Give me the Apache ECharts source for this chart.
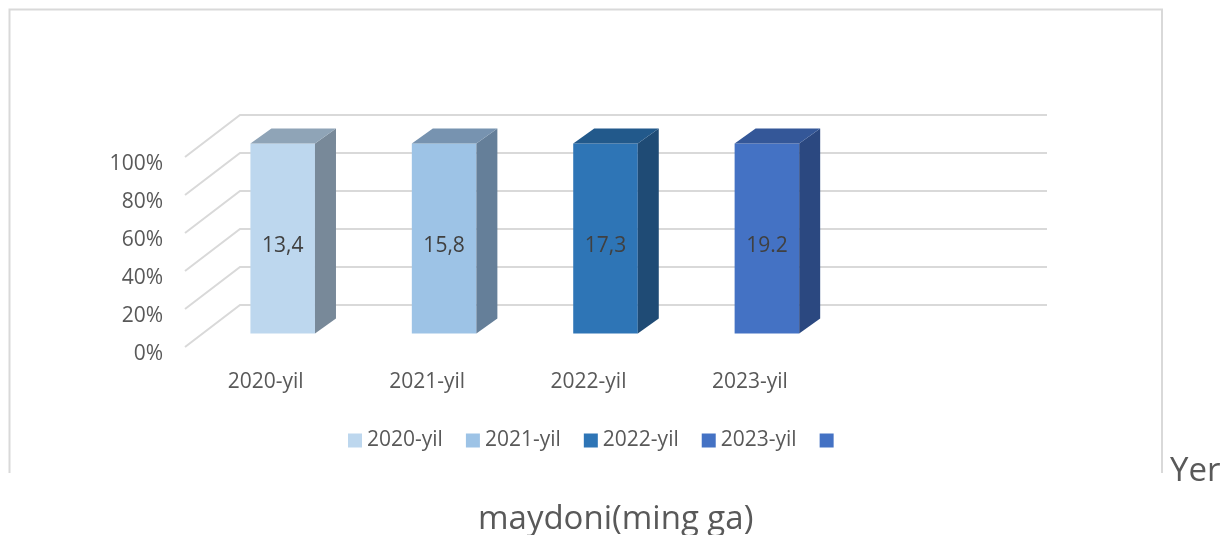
<!DOCTYPE html>
<html>
<head>
<meta charset="utf-8">
<script src="https://cdn.jsdelivr.net/npm/echarts@6.0.0/dist/echarts.min.js"></script>
<style>
  html, body { margin: 0; padding: 0; background: #fff; }
  #main { width: 1221px; height: 535px; }
</style>
</head>
<body>
<div id="main"></div>
<script>
// data
var categories = ['2020-yil', '2021-yil', '2022-yil', '2023-yil', ''];
var seriesNames = ['2020-yil', '2021-yil', '2022-yil', '2023-yil', ' '];
var values = [13.4, 15.8, 17.3, 19.2];
var valueLabels = ['13,4', '15,8', '17,3', '19.2'];
var yTicks = [0, 20, 40, 60, 80, 100];

var frontColors = ['#BDD7EE', '#9DC3E6', '#2E75B6', '#4472C4', '#4472C4'];
var sideColors = ['#788999', '#657F99', '#1F4B75', '#2B4880', '#2B4880'];
var topColors = ['#8FA4B7', '#7793B0', '#22598B', '#345798', '#345798'];

// 3d look: depth of the floor and of a bar
var DEPTH_X = 55, DEPTH_Y = 42;
var BAR_DX = 21, BAR_DY = 15;

var myChart = echarts.init(document.getElementById('main'));

// each year is its own series, only non zero on its own category (100% stacked)
var seriesData = seriesNames.map(function (n, s) {
	return categories.map(function (c, i) {
		return (i === s && values[s] != null) ? values[s] : 0;
	});
});
var totals = categories.map(function (c, i) {
	var t = 0;
	for (var s = 0; s < seriesData.length; s++) t += seriesData[s][i];
	return t;
});

function renderBar(params, api) {
	var s = params.seriesIndex - 1;
	var cat = api.value(0);
	var p0 = api.coord([cat, api.value(1)]);
	var p1 = api.coord([cat, api.value(2)]);
	var w = api.size([1, 0])[0] * 0.4;
	var shiftX = (DEPTH_X - BAR_DX) / 2, shiftY = (DEPTH_Y - BAR_DY) / 2;
	var x0 = p0[0] + shiftX - w / 2, x1 = x0 + w;
	var yb = p0[1] - shiftY, yt = p1[1] - shiftY;
	return {
		type: 'group',
		children: [
			{type: 'polygon', shape: {points: [[x0, yt], [x1, yt], [x1, yb], [x0, yb]]}, style: {fill: frontColors[s]}},
			{type: 'polygon', shape: {points: [[x1, yt], [x1 + BAR_DX, yt - BAR_DY], [x1 + BAR_DX, yb - BAR_DY], [x1, yb]]}, style: {fill: sideColors[s]}},
			{type: 'polygon', shape: {points: [[x0, yt], [x0 + BAR_DX, yt - BAR_DY], [x1 + BAR_DX, yt - BAR_DY], [x1, yt]]}, style: {fill: topColors[s]}},
			{type: 'text', style: {
				text: valueLabels[api.value(3)], x: (x0 + x1) / 2, y: (yt + yb) / 2 + 8,
				align: 'center', verticalAlign: 'middle',
				fontFamily: 'Open Sans', fontSize: 21, fill: '#404040'
			}}
		]
	};
}

function renderGrid(params, api) {
	var v = api.value(1);
	var p = api.coord([0, v]);
	var bw = api.size([1, 0])[0];
	var left = p[0] - bw / 2;
	var right = api.coord([categories.length - 1, v])[0] + bw / 2;
	return {
		type: 'polyline',
		shape: {points: [[left, p[1]], [left + DEPTH_X, p[1] - DEPTH_Y], [right + DEPTH_X, p[1] - DEPTH_Y]]},
		style: {stroke: '#D9D9D9', lineWidth: 2, fill: null}
	};
}

var series = [{
	type: 'custom',
	name: 'grid',
	silent: true,
	z: 1,
	renderItem: renderGrid,
	data: yTicks.map(function (v) { return [0, v]; })
}];

seriesNames.forEach(function (name, s) {
	var data = [];
	seriesData[s].forEach(function (v, i) {
		if (v > 0) {
			// start and end of this piece in percent of the category total
			var before = 0;
			for (var k = 0; k < s; k++) before += seriesData[k][i];
			data.push([i, before / totals[i] * 100, (before + v) / totals[i] * 100, s]);
		}
	});
	series.push({
		type: 'custom',
		name: name,
		z: 2,
		itemStyle: {color: frontColors[s]},
		renderItem: renderBar,
		data: data
	});
});

var option = {
	animation: false,
	textStyle: {fontFamily: 'Open Sans'},
	grid: {left: 185, right: 229, top: 157, bottom: 188},
	legend: {
		data: seriesNames,
		left: 343,
		top: 425,
		icon: 'rect',
		itemWidth: 14,
		itemHeight: 14,
		itemGap: 23,
		textStyle: {fontFamily: 'Open Sans', fontSize: 21, color: '#595959'}
	},
	xAxis: {
		type: 'category',
		data: categories,
		axisLine: {show: false},
		axisTick: {show: false},
		axisLabel: {margin: 25, fontFamily: 'Open Sans', fontSize: 21, color: '#595959'}
	},
	yAxis: {
		type: 'value',
		min: 0,
		max: 100,
		interval: 20,
		splitLine: {show: false},
		axisLine: {show: false},
		axisTick: {show: false},
		axisLabel: {
			margin: 22, verticalAlign: 'top', lineHeight: 14,
			fontFamily: 'Open Sans', fontSize: 21, color: '#595959',
			formatter: function (v) { return v + '%'; }
		}
	},
	graphic: [
		{type: 'polyline', silent: true, shape: {points: [[9.5, 473], [9.5, 9.5], [1162, 9.5], [1162, 473]]},
			style: {stroke: '#D9D9D9', lineWidth: 2, fill: null}},
		{type: 'text', left: 1170, top: 455, style: {text: 'Yer', fontFamily: 'Open Sans', fontSize: 33, fill: '#595959'}},
		{type: 'text', left: 478, top: 503, style: {text: 'maydoni(ming ga)', fontFamily: 'Open Sans', fontSize: 33, fill: '#595959'}}
	],
	series: series
};
myChart.setOption(option);
</script>
</body>
</html>
